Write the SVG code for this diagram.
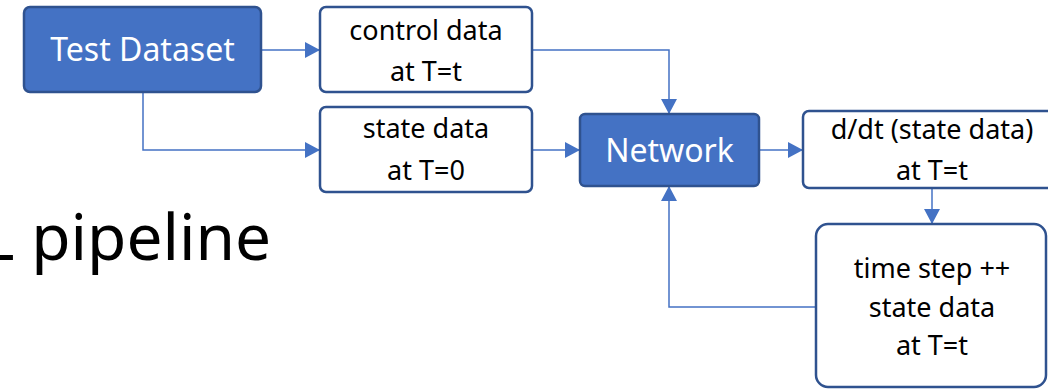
<svg xmlns="http://www.w3.org/2000/svg" width="1048" height="389" viewBox="0 0 1048 389">
<defs>
<style>
.fill{fill:#4472C4;stroke:#2F528F;stroke-width:2.5}
.plain{fill:#ffffff;stroke:#2F528F;stroke-width:2.5}
.wt{fill:#ffffff;font-family:"Noto Sans",sans-serif;font-size:32px;text-anchor:middle}
.bt{fill:#000000;font-family:"Noto Sans",sans-serif;font-size:27px;text-anchor:middle}
.con{fill:none;stroke:#4472C4;stroke-width:1.5}
</style>
<marker id="ah" viewBox="0 0 15 16" refX="15" refY="8" markerWidth="15" markerHeight="16" markerUnits="userSpaceOnUse" orient="auto">
<path d="M0,0 L15,8 L0,16 Z" fill="#4472C4"/>
</marker>
</defs>
<rect width="1048" height="389" fill="#ffffff"/>
<text x="-19" y="260" style="font-family:'Noto Sans',sans-serif;font-size:64px;fill:#000">L pipeline</text>
<g id="connectors">
<path class="con" d="M261,50 H320" marker-end="url(#ah)"/>
<path class="con" d="M143,92 V150 H320" marker-end="url(#ah)"/>
<path class="con" d="M532,50 H669 V114" marker-end="url(#ah)"/>
<path class="con" d="M532,150 H580" marker-end="url(#ah)"/>
<path class="con" d="M759,150 H803" marker-end="url(#ah)"/>
<path class="con" d="M932,188 V224" marker-end="url(#ah)"/>
<path class="con" d="M816,307 H669 V186" marker-end="url(#ah)"/>
</g>
<g id="test-dataset">
<rect class="fill" x="24" y="7" width="237" height="85" rx="6"/>
<text class="wt" x="142.5" y="61">Test Dataset</text>
</g>
<g id="control-data">
<rect class="plain" x="320" y="7" width="212" height="85" rx="6"/>
<text class="bt" x="426" y="40">control data</text>
<text class="bt" x="426" y="81">at T=t</text>
</g>
<g id="state-data">
<rect class="plain" x="320" y="107" width="212" height="85" rx="6"/>
<text class="bt" x="426" y="138">state data</text>
<text class="bt" x="426" y="180">at T=0</text>
</g>
<g id="network">
<rect class="fill" x="580" y="114" width="179" height="72" rx="5"/>
<text class="wt" x="669.5" y="162">Network</text>
</g>
<g id="ddt">
<rect class="plain" x="803" y="111" width="260" height="77" rx="6"/>
<text class="bt" x="932" y="139">d/dt (state data)</text>
<text class="bt" x="932" y="180">at T=t</text>
</g>
<g id="time-step">
<rect class="plain" x="816" y="224" width="230" height="163" rx="12"/>
<text class="bt" x="932" y="278">time step ++</text>
<text class="bt" x="932" y="317">state data</text>
<text class="bt" x="932" y="355">at T=t</text>
</g>
</svg>
